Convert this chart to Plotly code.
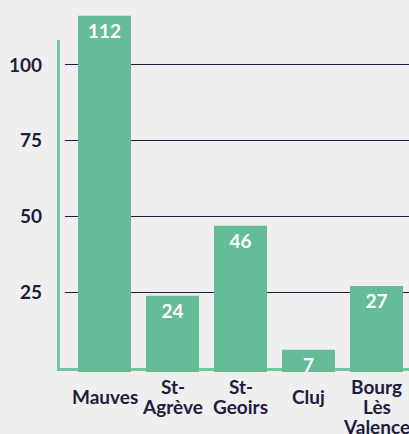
import plotly.graph_objects as go

categories = ["Mauves", "St-<br>Agrève", "St-<br>Geoirs", "Cluj", "Bourg<br>Lès<br>Valence"]
values = [112, 24, 46, 7, 27]
tick_vals = [25, 50, 75, 100]
tick_text = ["25", "50", "75", "100"]

BG = "#efefef"
BAR = "#64bc98"
AXLINE = "#74c6a4"
INK = "#1f1c3d"
FONT = "Lato"
FS = 19
LINE_H = 20

x_idx = list(range(len(categories)))

fig = go.Figure()
# helper trace that carries the gridline/tick axis (invisible)
fig.add_trace(go.Scatter(
    x=x_idx, y=values, yaxis="y", mode="markers",
    marker=dict(opacity=0, size=1), hoverinfo="skip", showlegend=False,
))
fig.add_trace(go.Bar(
    x=x_idx, y=values, yaxis="y2",
    marker=dict(color=BAR, line=dict(width=0)),
    text=[str(v) for v in values], textposition="inside",
    insidetextanchor="end", textangle=0, constraintext="none",
    textfont=dict(family=FONT, size=FS, color="white", weight="bold"),
    hoverinfo="skip", showlegend=False,
))

annotations = []
for i, lab in enumerate(categories):
    lines = lab.split("<br>")
    base = -1 - (LINE_H / 2 if len(lines) == 1 else 0)
    for k, ln in enumerate(lines):
        annotations.append(dict(
            x=i, xref="x", y=0, yref="paper", yanchor="top", xanchor="center",
            text=ln, showarrow=False, align="center",
            yshift=base - k * LINE_H,
            font=dict(family=FONT, size=FS, color=INK, weight="bold"),
        ))

fig.update_layout(
    width=409, height=434,
    margin=dict(l=65, r=0, t=0, b=62),
    paper_bgcolor=BG, plot_bgcolor="rgba(0,0,0,0)",
    bargap=15 / 68,
    xaxis=dict(range=[-0.581, 4.478], showticklabels=False, showgrid=False,
               zeroline=False, showline=False, ticks=""),
    yaxis=dict(range=[-1.43, 121.47], tickvals=tick_vals, ticktext=tick_text,
               showgrid=True, gridcolor=INK, gridwidth=1, zeroline=False,
               showline=False, ticks="", ticklabelstandoff=22,
               tickfont=dict(family=FONT, size=FS, color=INK, weight="bold")),
    yaxis2=dict(range=[0, 116.94], overlaying="y", showgrid=False, zeroline=False,
                showticklabels=False, showline=False, ticks=""),
    annotations=annotations,
    shapes=[
        dict(type="line", xref="paper", yref="paper", x0=-0.0189, x1=-0.0189,
             y0=0.8925, y1=0.0054, line=dict(color=AXLINE, width=3), layer="below"),
        dict(type="line", xref="paper", yref="paper", x0=-0.0233, x1=1,
             y0=0.0067, y1=0.0067, line=dict(color=AXLINE, width=3), layer="below"),
    ],
)

fig.write_html(
    "out.html",
    config={"displayModeBar": False},
    post_script="document.body.style.margin='0';document.body.style.background='%s';" % BG,
)
